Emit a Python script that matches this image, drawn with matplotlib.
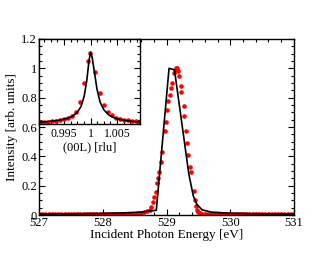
import matplotlib
matplotlib.use("Agg")
import matplotlib.pyplot as plt
from matplotlib.ticker import MultipleLocator, FixedLocator

plt.rcParams['font.family'] = ['Liberation Serif', 'DejaVu Serif']
plt.rcParams['mathtext.fontset'] = 'stix'

# ---------------- main panel data ----------------
# measured intensity (red dots)
energy_data = [
    527.00, 527.05, 527.10, 527.15, 527.20, 527.25, 527.30, 527.35, 527.40, 527.45,
    527.50, 527.55, 527.60, 527.65, 527.70, 527.75, 527.80, 527.85, 527.90, 527.95,
    528.00, 528.05, 528.10, 528.15, 528.20, 528.25, 528.30, 528.35, 528.40, 528.45,
    528.50, 528.55, 528.60, 528.65, 528.70,
    528.745, 528.76, 528.79, 528.81, 528.83, 528.85, 528.865, 528.88, 528.91, 528.93,
    528.97, 528.99, 529.01, 529.02, 529.05, 529.07, 529.08, 529.11, 529.13, 529.15,
    529.17, 529.18, 529.20, 529.22, 529.235, 529.27, 529.28, 529.31, 529.32, 529.34,
    529.37, 529.38, 529.43, 529.45, 529.46, 529.48, 529.50, 529.52, 529.55,
    529.60, 529.65, 529.70, 529.75, 529.80, 529.85, 529.90, 529.95, 530.00, 530.05,
    530.10, 530.15, 530.20, 530.25, 530.30, 530.35, 530.40, 530.45, 530.50, 530.55,
    530.60, 530.65, 530.70, 530.75, 530.80, 530.85, 530.90, 530.95, 531.00,
]
intensity_data = [
    0.004, 0.004, 0.004, 0.004, 0.004, 0.004, 0.004, 0.004, 0.004, 0.004,
    0.004, 0.004, 0.004, 0.004, 0.004, 0.004, 0.004, 0.004, 0.005, 0.005,
    0.005, 0.005, 0.005, 0.005, 0.005, 0.006, 0.006, 0.007, 0.007, 0.008,
    0.009, 0.011, 0.014, 0.018, 0.024,
    0.034, 0.057, 0.090, 0.125, 0.160, 0.215, 0.255, 0.295, 0.360, 0.430,
    0.570, 0.636, 0.716, 0.780, 0.820, 0.865, 0.900, 0.970, 0.990, 1.000,
    1.000, 0.980, 0.950, 0.880, 0.840, 0.740, 0.675, 0.570, 0.490, 0.410,
    0.330, 0.295, 0.164, 0.100, 0.060, 0.035, 0.020, 0.012, 0.008,
    0.006, 0.005, 0.005, 0.005, 0.005, 0.005, 0.005, 0.004, 0.004, 0.004,
    0.004, 0.004, 0.004, 0.004, 0.004, 0.004, 0.004, 0.004, 0.004, 0.004,
    0.004, 0.004, 0.004, 0.004, 0.004, 0.004, 0.004, 0.004, 0.004,
]

# calculation (black line)
energy_calc = [527.0, 527.5, 528.0, 528.3, 528.6, 528.84, 529.04, 529.125,
               529.35, 529.42, 529.48, 529.56, 529.70, 530.0, 530.5, 531.0]
intensity_calc = [0.006, 0.008, 0.011, 0.014, 0.020, 0.032, 1.000, 0.990,
                  0.280, 0.130, 0.070, 0.035, 0.020, 0.012, 0.008, 0.006]

# ---------------- inset data ----------------
L_data = [0.9905, 0.99125, 0.9920, 0.99275, 0.9935, 0.99425, 0.9950, 0.99575,
          0.9965, 0.99725, 0.9980, 0.99875, 0.99945, 0.99985, 1.0009, 1.0017,
          1.0025, 1.00325, 1.0040, 1.00475, 1.0055, 1.00625, 1.0070, 1.00775,
          1.0085, 1.00925]
I_inset_data = [0.632, 0.634, 0.637, 0.640, 0.642, 0.648, 0.655, 0.665,
                0.678, 0.700, 0.770, 0.900, 1.050, 1.105, 0.975, 0.830,
                0.750, 0.705, 0.680, 0.665, 0.656, 0.649, 0.645, 0.641,
                0.639, 0.637]

L_calc = [0.9903, 0.9920, 0.9940, 0.9955, 0.9965, 0.9975, 0.9982, 0.9988,
          0.9993, 0.9997, 1.0000, 1.0003, 1.0007, 1.0012, 1.0018, 1.0025,
          1.0035, 1.0045, 1.0060, 1.0075, 1.0093]
I_inset_calc = [0.632, 0.638, 0.646, 0.658, 0.672, 0.700, 0.740, 0.810,
                0.920, 1.050, 1.110, 1.075, 0.980, 0.860, 0.770, 0.718,
                0.680, 0.662, 0.648, 0.640, 0.634]

# ---------------- figure ----------------
W, H = 332, 257
fig = plt.figure(figsize=(W / 100, H / 100), dpi=100)

def rect(x0, y0, x1, y1):
    return [x0 / W, 1 - y1 / H, (x1 - x0) / W, (y1 - y0) / H]

ax = fig.add_axes(rect(39, 39, 294, 215))
ax.plot(energy_data, intensity_data, 'o', color='#ff0000', ms=3.3, mew=0, zorder=2)
ax.plot(energy_calc, intensity_calc, '-', color='black', lw=1.2, zorder=3)
ax.set_xlim(527, 531)
ax.set_ylim(0, 1.2)
ax.xaxis.set_minor_locator(MultipleLocator(0.2))
ax.yaxis.set_minor_locator(MultipleLocator(0.05))
ax.set_yticks([0, 0.2, 0.4, 0.6, 0.8, 1.0, 1.2])
ax.set_yticklabels(['0', '0.2', '0.4', '0.6', '0.8', '1', '1.2'])
ax.set_xticks([527, 528, 529, 530, 531])
ax.set_xticklabels(['527', '528', '529', '530', '531'])
ax.tick_params(which='both', direction='in', top=True, right=True, labelsize=9, width=0.8, pad=1.5)
ax.tick_params(which='major', length=4)
ax.tick_params(which='minor', length=2)
ax.set_xlabel('Incident Photon Energy [eV]', fontsize=9.5, labelpad=0)
ax.set_ylabel('Intensity [arb. units]', fontsize=9.5, labelpad=2)
for s in ax.spines.values():
    s.set_linewidth(1.0)

# inset
ax2 = fig.add_axes(rect(39, 39, 140, 124))
ax2.plot(L_data, I_inset_data, 'o', color='#ff0000', ms=3.3, mew=0, zorder=2)
ax2.plot(L_calc, I_inset_calc, '-', color='black', lw=1.2, zorder=3)
ax2.set_xlim(0.9903, 1.0093)
ax2.set_ylim(0.621, 1.2)
ax2.xaxis.set_major_locator(FixedLocator([0.990, 0.995, 1.0, 1.005]))
ax2.set_xticklabels(['', '0.995', '1', '1.005'])
ax2.xaxis.set_minor_locator(MultipleLocator(0.00125))
ax2.yaxis.set_major_locator(MultipleLocator(0.2))
ax2.yaxis.set_minor_locator(MultipleLocator(0.05))
ax2.tick_params(which='both', direction='in', top=True, right=True, labelsize=8.5,
                labelleft=False, width=0.8, pad=3)
ax2.tick_params(which='major', length=4)
ax2.tick_params(which='minor', length=2)
ax2.set_xlabel('(00L) [rlu]', fontsize=9, labelpad=1)
for s in ax2.spines.values():
    s.set_linewidth(1.0)

fig.savefig('out.png', dpi=100)
